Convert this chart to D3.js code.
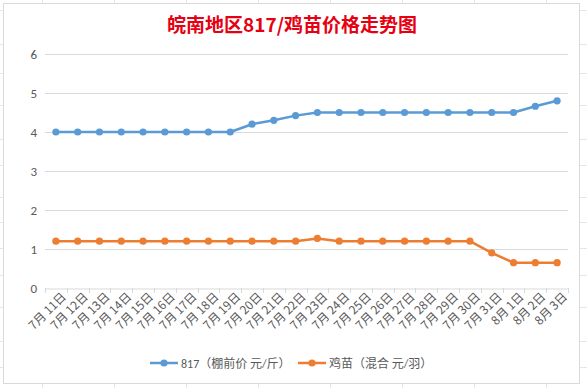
<!DOCTYPE html>
<html>
<head>
<meta charset="utf-8">
<script src="https://cdn.jsdelivr.net/npm/d3@7"></script>
<style>
  body { margin: 0; background: #fff; }
  svg { display: block; }
  .tick text { fill: #595959; }
</style>
</head>
<body>
<div id="chart"></div>
<script>
// data
const dates = ["7月 11日","7月 12日","7月 13日","7月 14日","7月 15日","7月 16日","7月 17日","7月 18日",
  "7月 19日","7月 20日","7月 21日","7月 22日","7月 23日","7月 24日","7月 25日","7月 26日",
  "7月 27日","7月 28日","7月 29日","7月 30日","7月 31日","8月 1日","8月 2日","8月 3日"];
const price817 = [4,4,4,4,4,4,4,4,4,4.2,4.3,4.42,4.5,4.5,4.5,4.5,4.5,4.5,4.5,4.5,4.5,4.5,4.66,4.8];
const chickPrice = [1.2,1.2,1.2,1.2,1.2,1.2,1.2,1.2,1.2,1.2,1.2,1.2,1.27,1.2,1.2,1.2,1.2,1.2,1.2,1.2,0.9,0.65,0.65,0.65];
const yTicks = [0,1,2,3,4,5,6];
const seriesNames = ["817（棚前价 元/斤）", "鸡苗（混合 元/羽）"];
const colors = ["#5b9bd5", "#ed7d31"];

const W = 587, H = 388;
const font = "Calibri, 'Liberation Sans', 'Noto Sans CJK SC', sans-serif";

const svg = d3.select("#chart").append("svg").attr("width", W).attr("height", H);

// spreadsheet cell lines peeking out behind the chart
const colLines = [42,114,186,258,330,402,474,546];
const rowLines = [10,44,73,105,139,165,197,222,248,275,307,341,367];
svg.selectAll(".col").data(colLines).enter().append("line")
  .attr("x1", d => d + 0.5).attr("x2", d => d + 0.5).attr("y1", 0).attr("y2", H)
  .attr("stroke", "#e6e6e6").attr("stroke-width", 1);
svg.selectAll(".row").data(rowLines).enter().append("line")
  .attr("x1", 0).attr("x2", W).attr("y1", d => d + 0.5).attr("y2", d => d + 0.5)
  .attr("stroke", "#e6e6e6").attr("stroke-width", 1);

// chart area
svg.append("rect")
  .attr("x", 3.5).attr("y", 3.5).attr("width", 576).attr("height", 380)
  .attr("fill", "#fff").attr("stroke", "#d9d9d9");

// title
svg.append("text")
  .attr("x", 292).attr("y", 32)
  .attr("text-anchor", "middle")
  .style("font-family", "'Noto Sans CJK SC', sans-serif")
  .style("font-size", "19px")
  .style("font-weight", "700")
  .style("fill", "#e60012")
  .text("皖南地区817/鸡苗价格走势图");

const x = d3.scaleBand().domain(dates).range([45, 568]).padding(0);
const y = d3.scaleLinear().domain([0, 6]).range([288, 54]);

// gridlines
svg.append("g")
  .selectAll("line").data(yTicks.filter(d => d > 0)).enter().append("line")
  .attr("x1", 45).attr("x2", 568)
  .attr("y1", d => Math.round(y(d)) + 0.5).attr("y2", d => Math.round(y(d)) + 0.5)
  .attr("stroke", "#d9d9d9");

// y axis labels
const yAxis = svg.append("g")
  .attr("transform", "translate(45,0.5)")
  .call(d3.axisLeft(y).tickValues(yTicks).tickFormat(d3.format("d")).tickSize(0).tickPadding(8));
yAxis.select(".domain").remove();
yAxis.selectAll("text").style("font-family", font).style("font-size", "13px");

// x axis
const xAxis = svg.append("g")
  .attr("transform", "translate(0,288.5)")
  .call(d3.axisBottom(x).tickSize(0));
xAxis.select(".domain").attr("stroke", "#d9d9d9");
xAxis.selectAll(".tick text")
  .attr("transform", "translate(5,3) rotate(-45)")
  .attr("text-anchor", "end")
  .attr("dx", 0).attr("dy", "0.7em")
  .attr("y", 0)
  .style("font-family", "'Noto Sans CJK SC', sans-serif")
  .style("font-size", "12px");
// tick marks on band boundaries
svg.append("g").selectAll("line")
  .data(dates.concat(["end"])).enter().append("line")
  .attr("x1", (d, i) => Math.round(45 + i * x.bandwidth()) + 0.5)
  .attr("x2", (d, i) => Math.round(45 + i * x.bandwidth()) + 0.5)
  .attr("y1", 288).attr("y2", 293)
  .attr("stroke", "#d9d9d9");

// series
const series = [price817, chickPrice];
const line = d3.line()
  .x((d, i) => x(dates[i]) + x.bandwidth() / 2)
  .y(d => y(d));

series.forEach((vals, si) => {
  svg.append("path")
    .datum(vals)
    .attr("fill", "none")
    .attr("stroke", colors[si])
    .attr("stroke-width", 2.5)
    .attr("stroke-linejoin", "round")
    .attr("d", line);
  svg.append("g").selectAll("circle").data(vals).enter().append("circle")
    .attr("cx", (d, i) => x(dates[i]) + x.bandwidth() / 2)
    .attr("cy", d => y(d))
    .attr("r", 3.6)
    .attr("fill", colors[si]);
});

// legend
const legendX = [150, 298];
const legend = svg.append("g");
seriesNames.forEach((name, i) => {
  const g = legend.append("g").attr("transform", `translate(${legendX[i]},363)`);
  g.append("line").attr("x1", 0).attr("x2", 28).attr("y1", 0).attr("y2", 0)
    .attr("stroke", colors[i]).attr("stroke-width", 2.5);
  g.append("circle").attr("cx", 14).attr("cy", 0).attr("r", 3.6).attr("fill", colors[i]);
  g.append("text").attr("x", 31).attr("y", 4.5)
    .style("font-family", font)
    .style("font-size", "12px")
    .style("fill", "#595959")
    .text(name);
});
</script>
</body>
</html>
